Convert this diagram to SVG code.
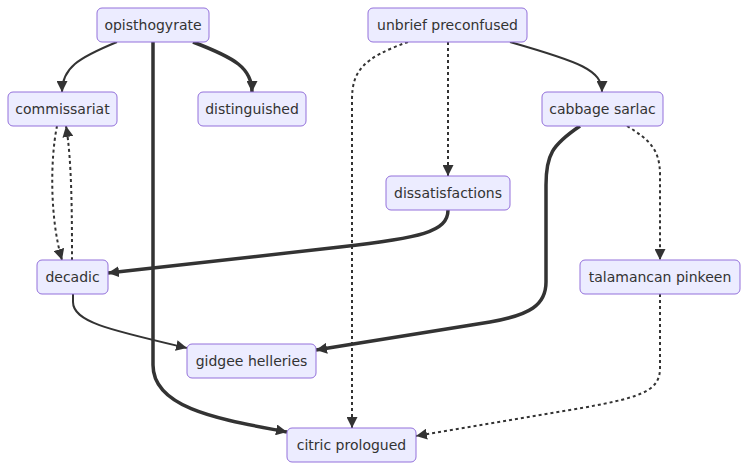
<svg xmlns="http://www.w3.org/2000/svg" width="748" height="470" viewBox="0 0 748 470">
<defs>
<marker id="arr" markerUnits="userSpaceOnUse" markerWidth="11" markerHeight="11" viewBox="0 0 10 10" refX="10" refY="5" orient="auto">
<path d="M0,0 L10,5 L0,10 z" fill="#333"/>
</marker>
<style>
.node rect{fill:#ECECFF;stroke:#9370DB;stroke-width:1}
.node text{font-family:"DejaVu Sans",Verdana,sans-serif;font-size:14px;fill:#333;text-anchor:middle;dominant-baseline:central}
.e{fill:none;stroke:#333;marker-end:url(#arr)}
.thin{stroke-width:2}
.thick{stroke-width:3.5}
.dot{stroke-width:2;stroke-dasharray:3 3}
</style>
</defs>
<rect width="748" height="470" fill="#fff"/>
<g id="edges">
<path class="e thin" d="M117,42 C78,58 62,68 62,92"/>
<path class="e thick" d="M193,42 C235,58 252,68 252,92"/>
<path class="e thick" d="M153,42 L153,365 C153,410 225,420 287,432"/>
<path class="e dot" d="M408,42 C362,58 352,72 352,100 L352,428"/>
<path class="e dot" d="M448,42 L448,176"/>
<path class="e thin" d="M510,42 C580,62 602,70 602,92"/>
<path class="e dot" d="M57,126 C50,160 50,220 62,260"/>
<path class="e dot" d="M72,260 C72,220 72,160 66,126"/>
<path class="e thick" d="M448,210 C448,232 420,238 340,247 L108,273"/>
<path class="e thin" d="M73,294 L73,302 C73,322 110,330 187,348"/>
<path class="e thick" d="M580,126 C552,145 546,155 546,185 L546,282 C546,305 530,315 490,322 L316,350"/>
<path class="e dot" d="M627,126 C650,140 660,150 660,175 L660,260"/>
<path class="e dot" d="M660,294 L660,368 C660,392 640,398 570,410 L416,436"/>
</g>
<g id="opisthogyrate" class="node"><rect x="97" y="8" width="112" height="34" rx="5"/><text x="153" y="25">opisthogyrate</text></g>
<g id="commissariat" class="node"><rect x="8" y="92" width="109" height="34" rx="5"/><text x="62.5" y="109">commissariat</text></g>
<g id="distinguished" class="node"><rect x="198" y="92" width="108" height="34" rx="5"/><text x="252" y="109">distinguished</text></g>
<g id="unbrief_preconfused" class="node"><rect x="368" y="8" width="159" height="34" rx="5"/><text x="447.5" y="25">unbrief preconfused</text></g>
<g id="cabbage_sarlac" class="node"><rect x="542" y="92" width="121" height="34" rx="5"/><text x="602.5" y="109">cabbage sarlac</text></g>
<g id="dissatisfactions" class="node"><rect x="386" y="176" width="124" height="34" rx="5"/><text x="448" y="193">dissatisfactions</text></g>
<g id="decadic" class="node"><rect x="37" y="260" width="71" height="34" rx="5"/><text x="72.5" y="277">decadic</text></g>
<g id="talamancan_pinkeen" class="node"><rect x="580" y="260" width="160" height="34" rx="5"/><text x="660" y="277">talamancan pinkeen</text></g>
<g id="gidgee_helleries" class="node"><rect x="187" y="344" width="129" height="34" rx="5"/><text x="251.5" y="361">gidgee helleries</text></g>
<g id="citric_prologued" class="node"><rect x="287" y="428" width="129" height="34" rx="5"/><text x="351.5" y="445">citric prologued</text></g>
</svg>
